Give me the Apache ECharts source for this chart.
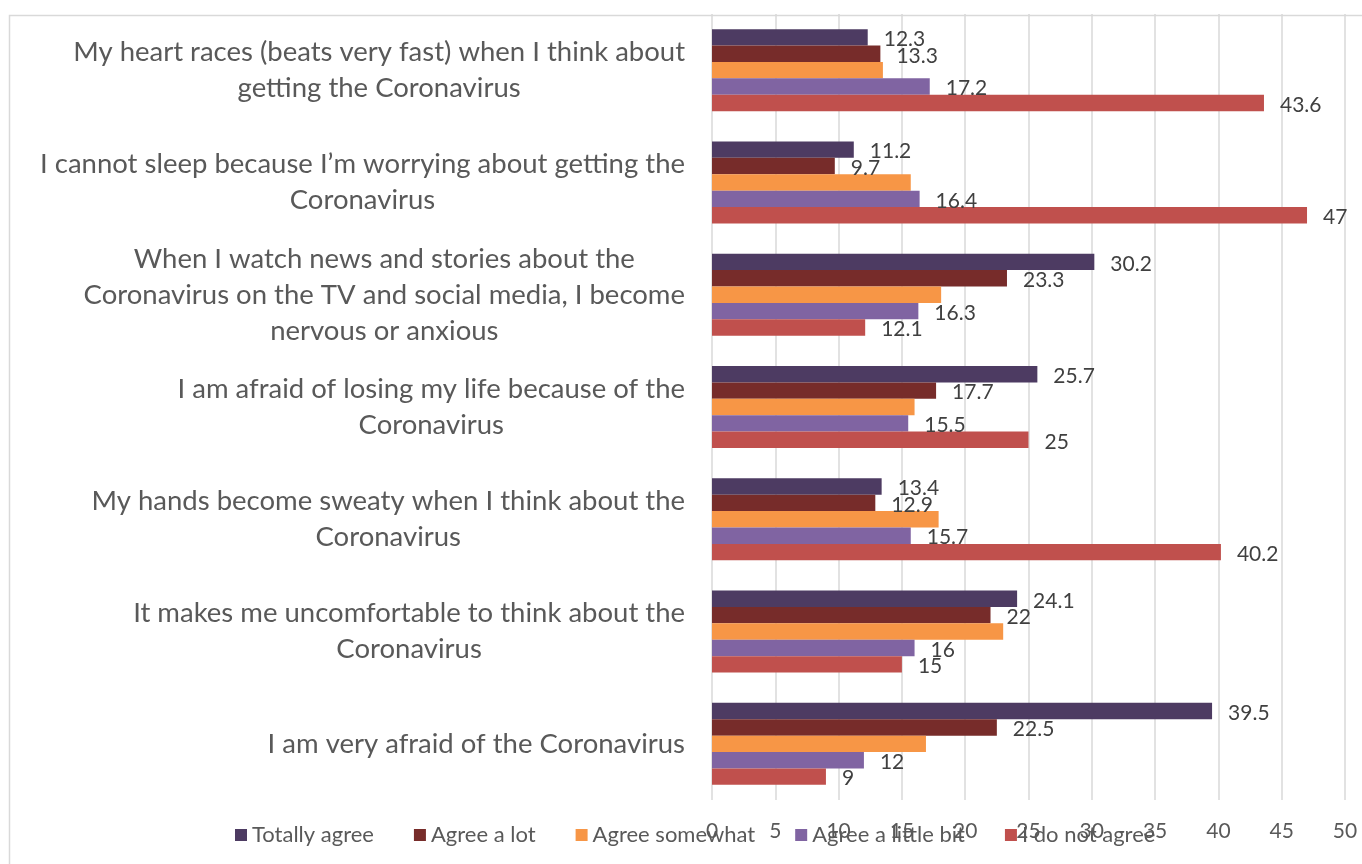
<!DOCTYPE html>
<html>
<head>
<meta charset="utf-8">
<script src="https://cdn.jsdelivr.net/npm/echarts@6/dist/echarts.min.js"></script>
<style>
  html, body { margin: 0; padding: 0; background: #fff; }
  #chart { width: 1362px; height: 864px; }
</style>
</head>
<body>
<div id="chart"></div>
<script>
// categories, top to bottom
const categories = [
  'My heart races (beats very fast) when I think about\ngetting the Coronavirus',
  'I cannot sleep because I\u2019m worrying about getting the\nCoronavirus',
  'When I watch news and stories about the\nCoronavirus on the TV and social media, I become\nnervous or anxious',
  'I am afraid of losing my life because of the\nCoronavirus',
  'My hands become sweaty when I think about the\nCoronavirus',
  'It makes me uncomfortable to think about the\nCoronavirus',
  'I am very afraid of the Coronavirus'
];

const seriesNames = ['Totally agree', 'Agree a lot', 'Agree somewhat', 'Agree a little bit', 'I do not agree'];

const totallyAgree = [12.3, 11.2, 30.2, 25.7, 13.4, 24.1, 39.5];
const agreeALot = [13.3, 9.7, 23.3, 17.7, 12.9, 22, 22.5];
const agreeSomewhat = [13.5, 15.7, 18.1, 16.0, 17.9, 23.0, 16.9];
const agreeALittle = [17.2, 16.4, 16.3, 15.5, 15.7, 16, 12];
const doNotAgree = [43.6, 47, 12.1, 25, 40.2, 15, 9];

const xTicks = [0, 5, 10, 15, 20, 25, 30, 35, 40, 45, 50];

const colors = ['#4d3b62', '#772c2a', '#f79646', '#8064a2', '#c0504d'];
const values = [totallyAgree, agreeALot, agreeSomewhat, agreeALittle, doNotAgree];
const showLabel = [true, true, false, true, true];

const font = 'Lato, "Open Sans", sans-serif';

const chart = echarts.init(document.getElementById('chart'));

const option = {
  animation: false,
  color: colors,
  textStyle: { fontFamily: font },
  graphic: [
    {
      type: 'rect',
      shape: { x: 9.5, y: 15.5, width: 1400, height: 900 },
      style: { fill: 'none', stroke: '#d9d9d9', lineWidth: 1.5 },
      silent: true
    }
  ],
  legend: {
    data: seriesNames,
    left: 230,
    top: 819,
    icon: 'rect',
    itemWidth: 12,
    itemHeight: 12,
    itemGap: 40,
    textStyle: { fontSize: 22, color: '#595959', fontFamily: font }
  },
  grid: {
    left: 712,
    right: 17,
    top: 14,
    bottom: 64
  },
  xAxis: {
    type: 'value',
    min: xTicks[0],
    max: xTicks[xTicks.length - 1],
    interval: 5,
    axisLine: { show: false },
    axisTick: { show: false },
    axisLabel: { fontSize: 21, color: '#595959', margin: 21, fontFamily: font },
    splitLine: { lineStyle: { color: '#d9d9d9', width: 1.5 } }
  },
  yAxis: {
    type: 'category',
    data: categories,
    inverse: true,
    axisLine: { show: false },
    axisTick: { show: false },
    axisLabel: {
      margin: 27,
      color: '#595959',
      fontSize: 27.5,
      fontFamily: font,
      lineHeight: 36,
      formatter: v => v.split('\n').map(s => '{c|' + s + '}').join('\n'),
      rich: {
        c: { align: 'center', fontSize: 27.5, lineHeight: 36, color: '#595959', fontFamily: font }
      }
    }
  },
  series: seriesNames.map((name, i) => ({
    name: name,
    type: 'bar',
    data: values[i],
    barGap: '0%',
    barCategoryGap: '27%',
    itemStyle: { color: colors[i] },
    label: {
      show: showLabel[i],
      position: 'right',
      distance: 16,
      offset: [0, 2],
      fontSize: 21,
      color: '#404040',
      fontFamily: font
    }
  }))
};

chart.setOption(option);
</script>
</body>
</html>
